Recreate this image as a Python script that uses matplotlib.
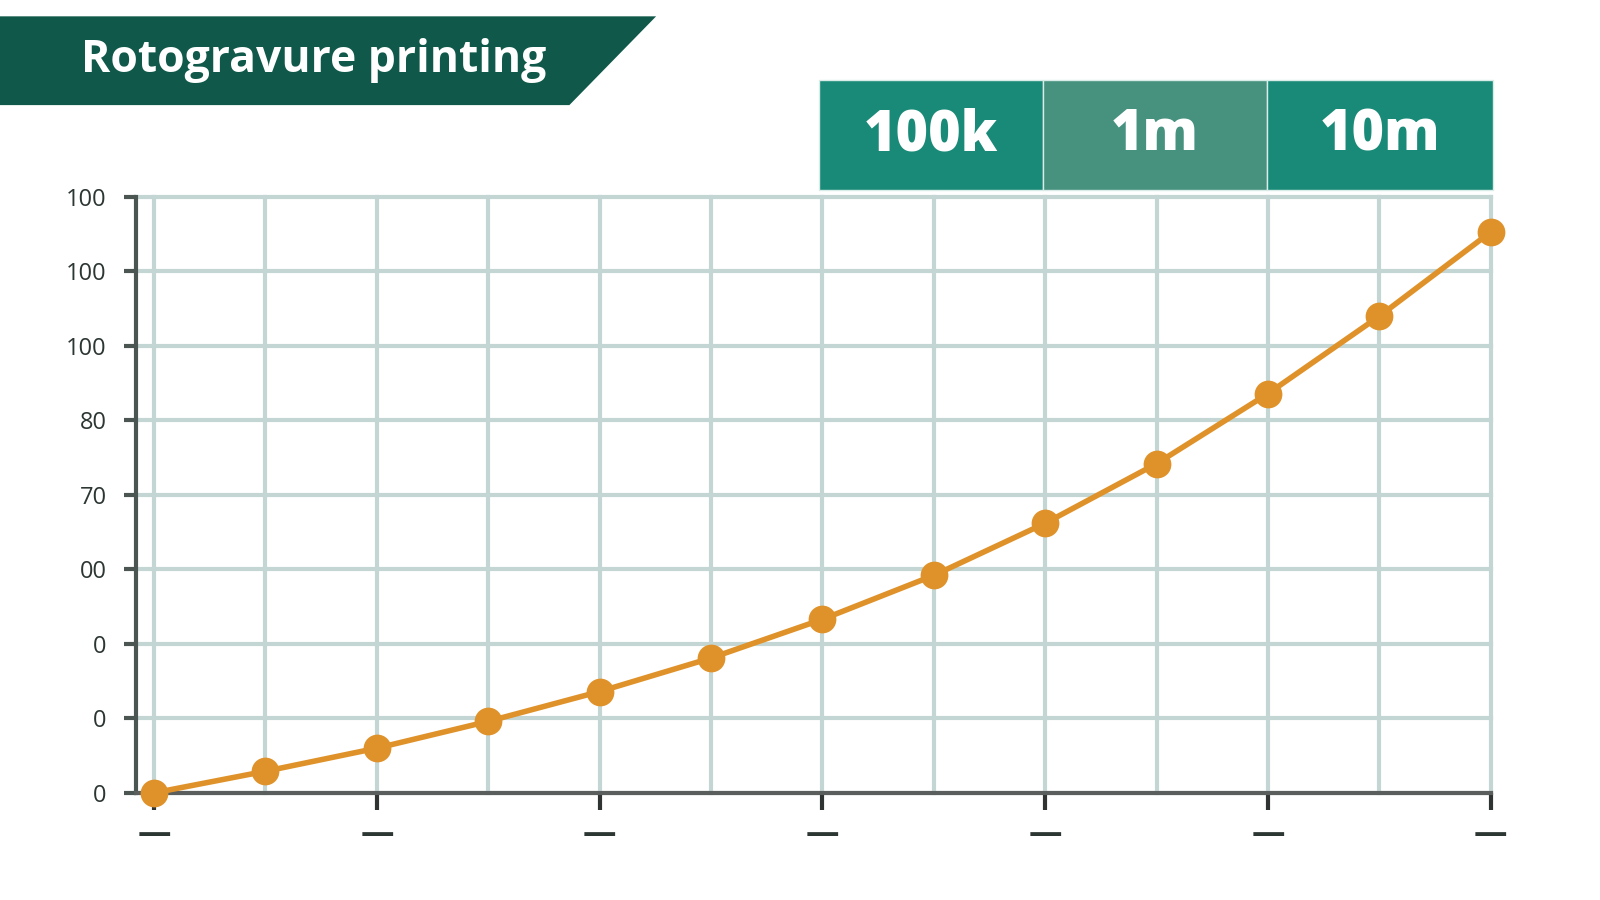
import matplotlib
matplotlib.use("Agg")
import matplotlib.pyplot as plt
from matplotlib.patches import Polygon, Rectangle
from matplotlib.ticker import FixedLocator

# ---- data ----
x_pos = list(range(13))
values = [0.0, 0.29, 0.60, 0.96, 1.36, 1.81, 2.33, 2.92, 3.62, 4.42, 5.36, 6.40, 7.53]
y_ticks = list(range(9))
y_tick_labels = ["0", "0", "0", "00", "70", "80", "100", "100", "100"]
x_major_ticks = [0, 2, 4, 6, 8, 10, 12]
x_tick_labels = ["—"] * 7
title = "Rotogravure printing"
scale_labels = ["100k", "1m", "10m"]
scale_colors = ["#1a8a78", "#47917f", "#1a8a78"]

plt.rcParams['font.family'] = ['Open Sans', 'DejaVu Sans']

# reference coordinates were measured on a 1568x882 view
W, H = 1568, 882
fig = plt.figure(figsize=(16, 9), dpi=100)
fig.patch.set_facecolor("white")

def fx(px):
    return px / W

def fy(py):
    return 1 - py / H

ax = fig.add_axes([fx(133), fy(777), fx(1461) - fx(133), fy(193) - fy(777)])
ax.set_facecolor("white")
ax.set_xlim(-0.165, 12)
ax.set_ylim(0, 8)

grid_c = "#c3d6d4"
ax.xaxis.set_major_locator(FixedLocator(x_major_ticks))
ax.xaxis.set_minor_locator(FixedLocator([p for p in x_pos if p not in x_major_ticks]))
ax.set_xticklabels(x_tick_labels)
ax.set_yticks(y_ticks)
ax.set_yticklabels(y_tick_labels)

for p in x_pos:
    ax.axvline(p, color=grid_c, lw=3, zorder=1, clip_on=False)
for t in y_ticks:
    ax.axhline(t, color=grid_c, lw=3, zorder=1, clip_on=False)

ax.plot(x_pos, values, color="#e0922a", lw=4, marker="o", markersize=20,
        markeredgewidth=0, zorder=5, clip_on=False, solid_capstyle="round")

for s in ["top", "right"]:
    ax.spines[s].set_visible(False)
ax.spines["left"].set_color("#4b5552")
ax.spines["left"].set_linewidth(3)
ax.spines["bottom"].set_color("#5a5e5d")
ax.spines["bottom"].set_linewidth(3)
ax.spines["bottom"].set_zorder(3)

ax.tick_params(axis="y", length=9, width=3, color="#4b5552", pad=12,
               labelsize=17, labelcolor="#2c3633")
ax.tick_params(axis="x", which="major", length=12, width=3, color="#2f3432", pad=6,
               labelsize=24, labelcolor="#2c3633")
ax.tick_params(axis="x", which="minor", length=0)
for lab in ax.get_xticklabels():
    lab.set_fontweight("bold")

# ---- title banner ----
banner = Polygon([(fx(0), fy(16)), (fx(643), fy(16)), (fx(558), fy(103)), (fx(0), fy(103))],
                 closed=True, transform=fig.transFigure, facecolor="#10594a",
                 edgecolor="none")
fig.patches.append(banner)
fig.text(fx(307), fy(59), title, color="white", fontsize=32, fontweight="bold",
         ha="center", va="center")

# ---- scale boxes ----
edges = [803, 1022, 1242, 1463]
for i, (lab, col) in enumerate(zip(scale_labels, scale_colors)):
    x0, x1 = edges[i], edges[i + 1]
    r = Rectangle((fx(x0), fy(186)), fx(x1) - fx(x0), fy(78) - fy(186),
                  transform=fig.transFigure, facecolor=col,
                  edgecolor="#d9ece8", linewidth=1)
    fig.patches.append(r)
    fig.text(fx((x0 + x1) / 2), fy(133), lab, color="white", fontsize=40,
             fontweight=800, ha="center", va="center")

fig.savefig("out.png", dpi=100, facecolor="white")
